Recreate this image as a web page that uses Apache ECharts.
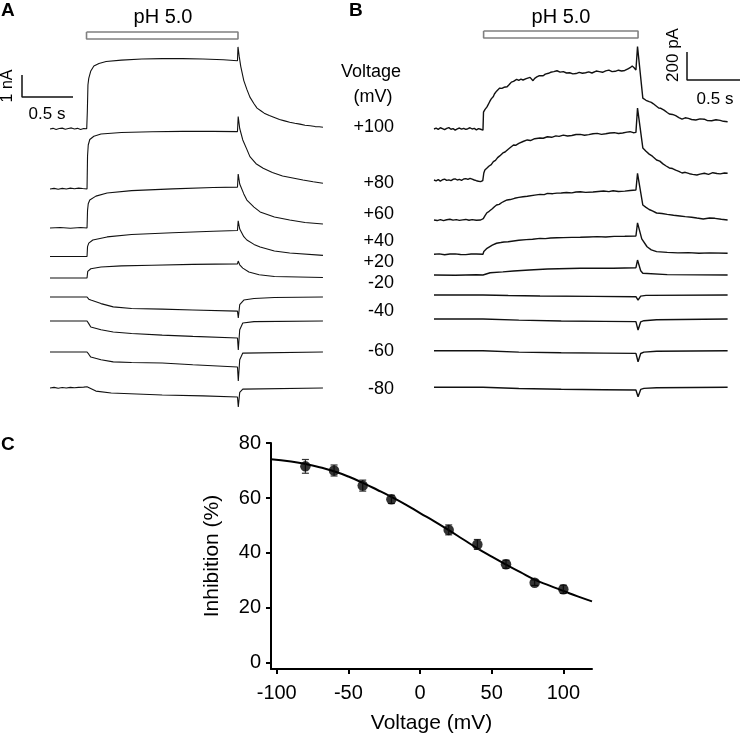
<!DOCTYPE html>
<html><head><meta charset="utf-8">
<script src="https://cdn.jsdelivr.net/npm/echarts@6/dist/echarts.min.js"></script>
<style>html,body{margin:0;padding:0;background:#fff}#c{width:740px;height:735px}</style>
</head><body><div id="c"></div>
<script>
// ---------------- DATA ----------------
const voltageLabels = ['+100','+80','+60','+40','+20','-20','-40','-60','-80'];
// pH 5.0 application windows (s)
const pulseA = [0.358, 1.843];
const pulseB = [0.468, 1.925];
// Panel A traces: [time s, current nA relative to holding baseline]
const traceA_p100 = [[0,0],[0.03,0.03],[0.06,-0.02],[0.09,0.02],[0.12,0.04],[0.15,-0.01],[0.18,0.02],[0.21,0.05],[0.24,0.0],[0.27,0.03],[0.3,-0.02],[0.33,0.02],[0.36,0.01],[0.363,0],[0.366,0.8],[0.372,2.0],[0.38,2.3],[0.40,2.64],[0.43,2.86],[0.48,2.98],[0.55,3.07],[0.7,3.13],[0.9,3.18],[1.1,3.2],[1.3,3.2],[1.5,3.18],[1.7,3.15],[1.838,3.1],[1.843,3.73],[1.855,3.3],[1.87,2.85],[1.9,2.2],[1.93,1.8],[1.96,1.45],[2.0,1.15],[2.03,0.95],[2.07,0.82],[2.1,0.72],[2.15,0.61],[2.2,0.52],[2.25,0.43],[2.3,0.37],[2.35,0.31],[2.4,0.26],[2.45,0.22],[2.5,0.17],[2.55,0.15],[2.6,0.11],[2.64,0.1],[2.676,0.08]];
const traceA_p80 = [[0,0],[0.04,0.03],[0.08,-0.01],[0.12,0.03],[0.16,0.0],[0.2,0.04],[0.24,0.01],[0.28,0.04],[0.32,0.02],[0.363,0],[0.368,1.5],[0.375,2.0],[0.39,2.25],[0.43,2.4],[0.5,2.5],[0.7,2.57],[1.0,2.6],[1.3,2.62],[1.6,2.62],[1.838,2.61],[1.845,3.29],[1.86,2.75],[1.89,2.23],[1.93,1.8],[1.96,1.47],[2.02,1.15],[2.09,0.94],[2.18,0.75],[2.28,0.59],[2.38,0.5],[2.48,0.41],[2.58,0.33],[2.676,0.26]];
const traceA_p60 = [[0,0],[0.1,0.02],[0.2,-0.01],[0.3,0.02],[0.363,0],[0.368,0.8],[0.375,1.1],[0.39,1.27],[0.45,1.45],[0.56,1.59],[0.8,1.7],[1.2,1.78],[1.6,1.84],[1.838,1.86],[1.845,2.45],[1.86,2.0],[1.9,1.55],[1.93,1.27],[2.0,0.95],[2.06,0.73],[2.2,0.5],[2.35,0.36],[2.5,0.25],[2.676,0.18]];
const traceA_p40 = [[0,0],[0.363,0],[0.368,0.45],[0.38,0.61],[0.42,0.75],[0.56,0.89],[0.8,1.0],[1.2,1.08],[1.6,1.15],[1.838,1.18],[1.845,1.62],[1.86,1.25],[1.9,0.9],[1.93,0.75],[2.0,0.55],[2.06,0.43],[2.2,0.25],[2.35,0.16],[2.676,0.05]];
const traceA_p20 = [[0,0],[0.363,0],[0.37,0.3],[0.4,0.42],[0.5,0.5],[0.7,0.55],[1.0,0.58],[1.4,0.62],[1.838,0.64],[1.845,0.77],[1.86,0.6],[1.89,0.45],[1.95,0.27],[2.05,0.15],[2.2,0.07],[2.676,0.02]];
const traceA_m20 = [[0,0],[0.363,0],[0.38,-0.1],[0.40,-0.14],[0.5,-0.3],[0.62,-0.45],[0.8,-0.52],[1.1,-0.55],[1.4,-0.59],[1.838,-0.64],[1.846,-0.95],[1.86,-0.35],[1.9,-0.14],[2.0,-0.07],[2.2,-0.02],[2.676,0]];
const traceA_m40 = [[0,0],[0.363,0],[0.38,-0.12],[0.40,-0.27],[0.5,-0.4],[0.62,-0.5],[0.8,-0.57],[1.1,-0.64],[1.4,-0.7],[1.838,-0.77],[1.846,-1.32],[1.86,-0.4],[1.89,-0.09],[2.0,-0.03],[2.676,0]];
const traceA_m60 = [[0,0],[0.363,0],[0.38,-0.1],[0.40,-0.23],[0.5,-0.35],[0.62,-0.45],[0.8,-0.48],[1.1,-0.5],[1.4,-0.58],[1.838,-0.68],[1.846,-1.32],[1.86,-0.35],[1.89,-0.05],[2.676,0]];
const traceA_m80 = [[0,0],[0.04,0.03],[0.08,-0.01],[0.12,0.02],[0.16,0.0],[0.2,0.03],[0.24,0.01],[0.28,0.03],[0.33,0.04],[0.363,0.06],[0.38,0.0],[0.45,-0.14],[0.6,-0.23],[1.1,-0.32],[1.5,-0.36],[1.838,-0.41],[1.846,-0.86],[1.86,-0.2],[1.89,-0.05],[2.676,0]];
// Panel B traces: [time s, current pA relative to holding baseline]
const traceB_p100 = [[0,0],[0.02,6],[0.04,-3],[0.06,9],[0.08,2],[0.1,-5],[0.12,4],[0.14,10],[0.16,-2],[0.18,3],[0.2,-8],[0.22,1],[0.24,7],[0.26,-1],[0.28,5],[0.3,-3],[0.32,2],[0.34,9],[0.36,0],[0.38,4],[0.4,-6],[0.42,3],[0.44,-2],[0.455,4],[0.462,-8],[0.467,120],[0.48,138],[0.49,150],[0.5,158],[0.51,170],[0.525,195],[0.54,215],[0.55,222],[0.56,232],[0.57,250],[0.58,262],[0.59,270],[0.604,284],[0.62,292],[0.64,290],[0.66,298],[0.69,302],[0.71,318],[0.73,335],[0.75,340],[0.78,355],[0.8,348],[0.82,356],[0.84,350],[0.87,360],[0.906,369],[0.92,358],[0.934,345],[0.95,362],[0.97,372],[0.99,380],[1.0,386],[1.03,380],[1.05,392],[1.08,398],[1.1,405],[1.13,410],[1.16,416],[1.19,406],[1.22,410],[1.25,400],[1.28,402],[1.31,394],[1.34,396],[1.37,405],[1.4,398],[1.43,402],[1.46,408],[1.49,400],[1.53,414],[1.56,410],[1.59,405],[1.62,415],[1.65,421],[1.68,410],[1.71,412],[1.74,420],[1.77,414],[1.8,418],[1.83,430],[1.85,438],[1.87,450],[1.89,436],[1.905,421],[1.92,589],[1.97,221],[1.985,210],[2.0,205],[2.015,212],[2.03,195],[2.05,190],[2.07,180],[2.09,168],[2.12,150],[2.14,148],[2.17,135],[2.2,118],[2.22,107],[2.25,104],[2.28,95],[2.31,82],[2.34,71],[2.37,80],[2.4,76],[2.43,68],[2.47,64],[2.51,72],[2.55,70],[2.58,60],[2.62,59],[2.66,66],[2.7,62],[2.73,55],[2.77,52]];
const traceB_p80 = [[0,0],[0.02,-6],[0.04,3],[0.06,-8],[0.08,2],[0.1,6],[0.12,-3],[0.14,1],[0.16,-4],[0.18,5],[0.2,8],[0.22,0],[0.24,4],[0.26,-2],[0.28,7],[0.3,10],[0.32,4],[0.34,12],[0.36,6],[0.38,0],[0.4,-5],[0.42,-9],[0.44,-12],[0.46,-5],[0.47,50],[0.48,71],[0.5,85],[0.52,100],[0.54,110],[0.56,131],[0.58,140],[0.6,160],[0.62,172],[0.65,193],[0.67,200],[0.7,220],[0.72,232],[0.75,250],[0.77,248],[0.8,262],[0.84,275],[0.88,286],[0.91,282],[0.95,295],[1.0,300],[1.03,298],[1.07,309],[1.11,305],[1.15,315],[1.18,312],[1.22,321],[1.26,314],[1.3,318],[1.34,325],[1.38,326],[1.42,320],[1.46,324],[1.5,330],[1.54,333],[1.58,326],[1.62,330],[1.66,336],[1.7,338],[1.74,332],[1.78,336],[1.82,342],[1.85,345],[1.88,338],[1.905,340],[1.92,514],[1.97,229],[2.0,205],[2.03,185],[2.06,170],[2.1,143],[2.13,135],[2.16,115],[2.19,100],[2.22,86],[2.25,82],[2.28,70],[2.31,62],[2.34,50],[2.37,55],[2.41,45],[2.44,40],[2.48,36],[2.51,42],[2.55,48],[2.59,40],[2.63,52],[2.67,46],[2.7,44],[2.74,50],[2.77,48]];
const traceB_p60 = [[0,0],[0.03,-4],[0.06,3],[0.09,-5],[0.12,2],[0.15,5],[0.18,-1],[0.21,3],[0.24,-3],[0.27,1],[0.3,4],[0.33,-2],[0.36,3],[0.4,-2],[0.44,0],[0.465,10],[0.48,30],[0.5,52],[0.52,62],[0.55,80],[0.57,95],[0.59,107],[0.615,112],[0.64,125],[0.665,135],[0.69,143],[0.72,146],[0.76,155],[0.8,162],[0.84,166],[0.88,170],[0.95,178],[1.0,183],[1.04,181],[1.07,190],[1.12,188],[1.16,192],[1.2,193],[1.25,196],[1.3,194],[1.34,200],[1.38,202],[1.43,197],[1.5,200],[1.55,204],[1.6,207],[1.65,203],[1.69,209],[1.74,204],[1.8,206],[1.85,211],[1.905,214],[1.92,333],[1.97,107],[2.0,90],[2.03,75],[2.06,65],[2.1,50],[2.15,46],[2.2,40],[2.26,34],[2.32,29],[2.37,24],[2.43,20],[2.48,14],[2.54,7],[2.6,14],[2.65,12],[2.71,5],[2.77,0]];
const traceB_p40 = [[0,0],[0.05,3],[0.1,-3],[0.15,2],[0.2,3],[0.25,-1],[0.3,-2],[0.35,2],[0.4,2],[0.462,0],[0.47,20],[0.5,43],[0.55,65],[0.59,79],[0.63,84],[0.66,88],[0.7,90],[0.75,95],[0.8,100],[0.87,105],[0.93,108],[1.0,114],[1.05,112],[1.1,116],[1.16,118],[1.22,119],[1.3,121],[1.38,122],[1.46,124],[1.54,126],[1.62,124],[1.7,128],[1.8,129],[1.905,131],[1.92,224],[1.96,110],[2.01,54],[2.05,32],[2.1,19],[2.2,14],[2.3,10],[2.4,12],[2.5,8],[2.6,10],[2.77,7]];
const traceB_p20 = [[0,0],[0.2,-2],[0.4,2],[0.462,0],[0.53,16],[0.65,22],[0.75,29],[0.9,36],[1.07,43],[1.38,48],[1.69,48],[1.905,52],[1.92,107],[1.95,30],[1.97,12],[2.2,3],[2.77,0]];
const traceB_m20 = [[0,0],[0.462,0],[0.7,-4],[1.0,-7],[1.5,-10],[1.905,-12],[1.925,-36],[1.95,-8],[2.0,-3],[2.77,0]];
const traceB_m40 = [[0,0],[0.462,0],[0.8,-8],[1.2,-14],[1.6,-17],[1.905,-19],[1.925,-79],[1.95,-20],[1.98,-12],[2.1,-5],[2.77,0]];
const traceB_m60 = [[0,0],[0.462,0],[0.8,-10],[1.2,-15],[1.6,-17],[1.905,-19],[1.925,-79],[1.95,-20],[1.98,-10],[2.1,-4],[2.77,0]];
const traceB_m80 = [[0,0],[0.462,0],[0.8,-9],[1.2,-14],[1.6,-17],[1.905,-19],[1.925,-67],[1.95,-15],[1.98,-8],[2.1,-3],[2.77,0]];
// Scale bars
const scaleA = {time: 0.5, current: 1};    // 0.5 s, 1 nA
const scaleB = {time: 0.5, current: 200};  // 0.5 s, 200 pA
// Panel C
const voltageC = [-80,-60,-40,-20,20,40,60,80,100];
const inhibition = [71.5,70,64.5,59.5,48.4,43.1,35.9,29.2,26.8];
const inhibitionErr = [2.5,2,2,1.5,1.8,1.8,1.5,1,1.5];
const fitV = [-104,-90,-80,-70,-60,-50,-40,-30,-20,-10,0,10,20,30,40,50,60,70,80,90,100,110,120];
const fitInhib = [74.1,73.3,72.4,71.2,69.7,67.8,65.5,63.0,60.4,57.6,54.5,51.5,48.3,45.0,41.7,38.7,35.8,33.0,30.3,28.2,26.2,24.2,22.4];
const xTicksC = [-100,-50,0,50,100];
const yTicksC = [0,20,40,60,80];

// ---------------- LAYOUT ----------------
const FONT = '"Liberation Sans", Arial, Helvetica, sans-serif';
const tracesA = [traceA_p100,traceA_p80,traceA_p60,traceA_p40,traceA_p20,traceA_m20,traceA_m40,traceA_m60,traceA_m80];
const tracesB = [traceB_p100,traceB_p80,traceB_p60,traceB_p40,traceB_p20,traceB_m20,traceB_m40,traceB_m60,traceB_m80];
const baselinePxA = [129,189,228,256.5,278,297,321,352,388];
const baselinePxB = [129,180,220,254.3,275,295,319,350.7,387.3];
const labelPxY = [127,183,214,241,262,283,311,351,389];

const A = {left:0, width:340, top:0, height:440, t0:50, pxS:102, pxU:22};
const B = {left:400, width:340, top:0, height:440, t0:434, pxS:106, pxU:0.14};
function xr(P){ return {min: -(P.t0-P.left)/P.pxS, max:(P.left+P.width-P.t0)/P.pxS}; }
function yv(P, px){ return -px/P.pxU; }
function tAt(P, px){ return (px-P.t0)/P.pxS; }

const series = [];
function addTraces(traces, base, P, idx){
  traces.forEach((tr,i)=>{
    series.push({type:'line', xAxisIndex:idx, yAxisIndex:idx, showSymbol:false, symbol:'none',
      clip:false, animation:false, silent:true,
      lineStyle:{color:'#111', width: idx===0?1.1:1.4},
      data: tr.map(([t,v])=>[t, v + yv(P, base[i])])});
  });
}
addTraces(tracesA, baselinePxA, A, 0);
addTraces(tracesB, baselinePxB, B, 1);

function addScale(P, idx, sc, ax, ay){
  const tx = tAt(P, ax), y0 = yv(P, ay);
  series.push({type:'line', xAxisIndex:idx, yAxisIndex:idx, showSymbol:false, symbol:'none', clip:false, animation:false, silent:true,
    lineStyle:{color:'#111', width:1.5},
    data:[[tx, y0+sc.current],[tx,y0],[tx+sc.time,y0]]});
}
addScale(A, 0, scaleA, 22, 97);
addScale(B, 1, scaleB, 687, 80);

function addBar(P, idx, pulse, pyTop, pyBot){
  const y1 = yv(P, pyTop), y2 = yv(P, pyBot);
  series.push({type:'line', xAxisIndex:idx, yAxisIndex:idx, showSymbol:false, symbol:'none', clip:false, animation:false, silent:true,
    lineStyle:{color:'#808080', width:1.6},
    data:[[pulse[0],y1],[pulse[1],y1],[pulse[1],y2],[pulse[0],y2],[pulse[0],y1]]});
}
addBar(A, 0, pulseA, 32, 39);
addBar(B, 1, pulseB, 31, 38);

// Panel C
series.push({type:'line', xAxisIndex:2, yAxisIndex:2, smooth:true, showSymbol:false, symbol:'none', animation:false,
  lineStyle:{color:'#000', width:2}, data: fitV.map((v,i)=>[v, fitInhib[i]]), z:3});
series.push({type:'custom', xAxisIndex:2, yAxisIndex:2, animation:false, z:4,
  data: voltageC.map((v,i)=>[v, inhibition[i], inhibitionErr[i]]),
  renderItem:function(params, api){
    const x=api.value(0), y=api.value(1), e=api.value(2);
    const t=api.coord([x,y+e]), b=api.coord([x,y-e]); const w=3.5;
    const st={stroke:'#333', lineWidth:1.2};
    return {type:'group', children:[
      {type:'line', shape:{x1:t[0],y1:t[1],x2:b[0],y2:b[1]}, style:st},
      {type:'line', shape:{x1:t[0]-w,y1:t[1],x2:t[0]+w,y2:t[1]}, style:st},
      {type:'line', shape:{x1:b[0]-w,y1:b[1],x2:b[0]+w,y2:b[1]}, style:st}]};
  }});
series.push({type:'scatter', xAxisIndex:2, yAxisIndex:2, symbol:'circle', symbolSize:10.5, animation:false, z:5,
  itemStyle:{color:'#000'}, data: voltageC.map((v,i)=>[v, inhibition[i]])});

const hiddenAxis = (gi, r)=>({type:'value', gridIndex:gi, min:r.min, max:r.max, show:false, splitLine:{show:false}});

const graphics = [];
function txt(text, x, y, size, opts){
  opts = opts||{};
  graphics.push({type:'text', x:x, y:y, rotation:opts.rot||0, silent:true,
    style:{text:text, fill:'#000', font:(opts.bold?'bold ':'')+size+'px '+FONT, align:opts.align||'center', verticalAlign:'middle'}});
}
txt('A', 1, 11, 19, {bold:true, align:'left'});
txt('B', 349, 11, 19, {bold:true, align:'left'});
txt('C', 1, 445, 19, {bold:true, align:'left'});
txt('pH 5.0', 163, 17, 20);
txt('pH 5.0', 561, 17, 20);
txt('1 nA', 8, 86, 16, {rot:Math.PI/2});
txt('0.5 s', 47, 114, 17);
txt('200 pA', 673, 55, 17, {rot:Math.PI/2});
txt('0.5 s', 715, 99, 17);
txt('Voltage', 371, 72, 18);
txt('(mV)', 373, 97, 18);
voltageLabels.forEach((l,i)=>txt(l, 394, labelPxY[i], 18, {align:'right'}));

const chart = echarts.init(document.getElementById('c'), null, {renderer:'canvas'});
chart.setOption({
  animation:false,
  backgroundColor:'#fff',
  textStyle:{fontFamily:FONT},
  grid:[
    {left:A.left, top:A.top, width:A.width, height:A.height},
    {left:B.left, top:B.top, width:B.width, height:B.height},
    {left:271, top:443, width:321, height:228}
  ],
  xAxis:[
    hiddenAxis(0, xr(A)), hiddenAxis(1, xr(B)),
    {type:'value', gridIndex:2, min:-104, max:120, position:'bottom',
      axisLine:{show:true, onZero:false, lineStyle:{color:'#000', width:2}},
      axisTick:{show:true, customValues:xTicksC, length:5, lineStyle:{color:'#000', width:2}},
      axisLabel:{customValues:xTicksC, color:'#000', fontSize:20, fontFamily:FONT, margin:14},
      splitLine:{show:false},
      name:'Voltage (mV)', nameLocation:'middle', nameGap:44, nameTextStyle:{color:'#000', fontSize:21, fontFamily:FONT}}
  ],
  yAxis:[
    {type:'value', gridIndex:0, min:-A.height/A.pxU, max:0, show:false, splitLine:{show:false}},
    {type:'value', gridIndex:1, min:-B.height/B.pxU, max:0, show:false, splitLine:{show:false}},
    {type:'value', gridIndex:2, min:-2.2, max:80, position:'left',
      axisLine:{show:true, onZero:false, lineStyle:{color:'#000', width:2}},
      axisTick:{show:true, customValues:yTicksC, length:5, lineStyle:{color:'#000', width:2}},
      axisLabel:{customValues:yTicksC, color:'#000', fontSize:20, fontFamily:FONT, margin:10},
      splitLine:{show:false},
      name:'Inhibition (%)', nameLocation:'middle', nameGap:48, nameRotate:90, nameTextStyle:{color:'#000', fontSize:21, fontFamily:FONT}}
  ],
  graphic: graphics,
  series: series
});
</script></body></html>
